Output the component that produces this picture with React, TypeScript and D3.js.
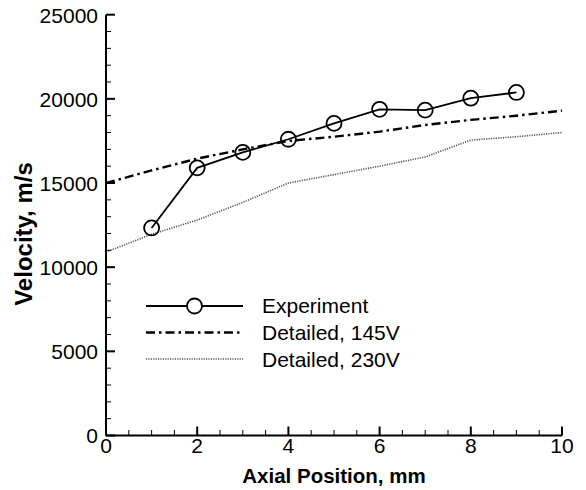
import React from "react";
import * as d3 from "d3";

// Axial positions (mm)
const expX = [1, 2, 3, 4, 5, 6, 7, 8, 9];
const expVelocity = [12330, 15900, 16820, 17600, 18540, 19380, 19330, 20040, 20380];

const modelX = [0, 1, 2, 3, 4, 5, 6, 7, 8, 9, 10];
const detailed145 = [15000, 15750, 16450, 17000, 17500, 17750, 18050, 18450, 18750, 19000, 19300];
const detailed230 = [10900, 11950, 12800, 13850, 15000, 15500, 16000, 16550, 17550, 17750, 18000];

const xMajorTicks = [0, 2, 4, 6, 8, 10];
const yMajorTicks = [0, 5000, 10000, 15000, 20000, 25000];

const legendLabels = ["Experiment", "Detailed, 145V", "Detailed, 230V"];

const W = 586;
const H = 490;
const FONT = "'Liberation Sans', Arial, Helvetica, sans-serif";

export default function App() {
  const x = d3.scaleLinear().domain([0, 10]).range([106, 562]);
  const y = d3.scaleLinear().domain([0, 25000]).range([435.5, 14.7]);

  const xMinor = d3.range(0, 10.001, 0.5).filter((v) => !xMajorTicks.includes(v));
  const yMinor = d3.range(0, 25001, 1000).filter((v) => !yMajorTicks.includes(v));

  const line = d3
    .line<[number, number]>()
    .x((d) => x(d[0]))
    .y((d) => y(d[1]));

  const expPts: [number, number][] = expX.map((v, i) => [v, expVelocity[i]]);
  const p145: [number, number][] = modelX.map((v, i) => [v, detailed145[i]]);
  const p230: [number, number][] = modelX.map((v, i) => [v, detailed230[i]]);

  const x0 = x(0);
  const y0 = y(0);

  const legX1 = 146;
  const legX2 = 243;
  const legTextX = 262;
  const legRows = [306, 332.5, 359];
  const legBase = [313, 340, 367];

  return (
    <svg
      width={W}
      height={H}
      style={{ position: "absolute", left: 0, top: 0, background: "#fff" }}
      fontFamily={FONT}
    >
      <rect width={W} height={H} fill="#fff" />

      {/* model curves */}
      <path
        d={line(p230) || ""}
        fill="none"
        stroke="#555"
        strokeWidth={1.6}
        strokeDasharray="1.2 1.2"
      />
      <path
        d={line(p145) || ""}
        fill="none"
        stroke="#000"
        strokeWidth={2.4}
        strokeDasharray="9 4 2.5 4"
      />

      {/* experiment */}
      <path d={line(expPts) || ""} fill="none" stroke="#000" strokeWidth={1.8} />
      {expPts.map((d, i) => (
        <circle
          key={i}
          cx={x(d[0])}
          cy={y(d[1])}
          r={7.5}
          fill="none"
          stroke="#000"
          strokeWidth={1.8}
        />
      ))}

      {/* axes */}
      <line x1={x0} y1={y0} x2={x(10)} y2={y0} stroke="#000" strokeWidth={2} />
      <line x1={x0} y1={y0} x2={x0} y2={y(25000)} stroke="#000" strokeWidth={2} />

      {xMajorTicks.map((v) => (
        <g key={"xm" + v}>
          <line x1={x(v)} x2={x(v)} y1={y0} y2={y0 - 9} stroke="#000" strokeWidth={2} />
          <text x={x(v)} y={453} fontSize={21} textAnchor="middle" fill="#000">
            {v}
          </text>
        </g>
      ))}
      {xMinor.map((v) => (
        <line key={"xn" + v} x1={x(v)} x2={x(v)} y1={y0} y2={y0 - 5.5} stroke="#000" strokeWidth={1} />
      ))}

      {yMajorTicks.map((v) => (
        <g key={"ym" + v}>
          <line x1={x0} x2={x0 + 9} y1={y(v)} y2={y(v)} stroke="#000" strokeWidth={2} />
          <text x={98} y={y(v) + 7.8} fontSize={21} textAnchor="end" fill="#000">
            {v}
          </text>
        </g>
      ))}
      {yMinor.map((v) => (
        <line key={"yn" + v} x1={x0} x2={x0 + 5} y1={y(v)} y2={y(v)} stroke="#000" strokeWidth={1} />
      ))}

      {/* axis titles */}
      <text
        x={(x(0) + x(10)) / 2}
        y={483}
        fontSize={20.5}
        fontWeight="bold"
        textAnchor="middle"
        fill="#000"
      >
        Axial Position, mm
      </text>
      <text
        transform={`translate(31.5, 234) rotate(-90)`}
        fontSize={24}
        fontWeight="bold"
        textAnchor="middle"
        fill="#000"
      >
        Velocity, m/s
      </text>

      {/* legend */}
      <line x1={legX1} x2={legX2} y1={legRows[0]} y2={legRows[0]} stroke="#000" strokeWidth={1.8} />
      <circle
        cx={(legX1 + legX2) / 2}
        cy={legRows[0]}
        r={7.5}
        fill="#fff"
        stroke="#000"
        strokeWidth={1.8}
      />
      <line
        x1={legX1}
        x2={legX2}
        y1={legRows[1]}
        y2={legRows[1]}
        stroke="#000"
        strokeWidth={2.4}
        strokeDasharray="9 4 2.5 4"
      />
      <line
        x1={legX1}
        x2={legX2}
        y1={legRows[2]}
        y2={legRows[2]}
        stroke="#555"
        strokeWidth={1.6}
        strokeDasharray="1.2 1.2"
      />
      {legendLabels.map((t, i) => (
        <text key={t} x={legTextX} y={legBase[i]} fontSize={21} fill="#000">
          {t}
        </text>
      ))}
    </svg>
  );
}
